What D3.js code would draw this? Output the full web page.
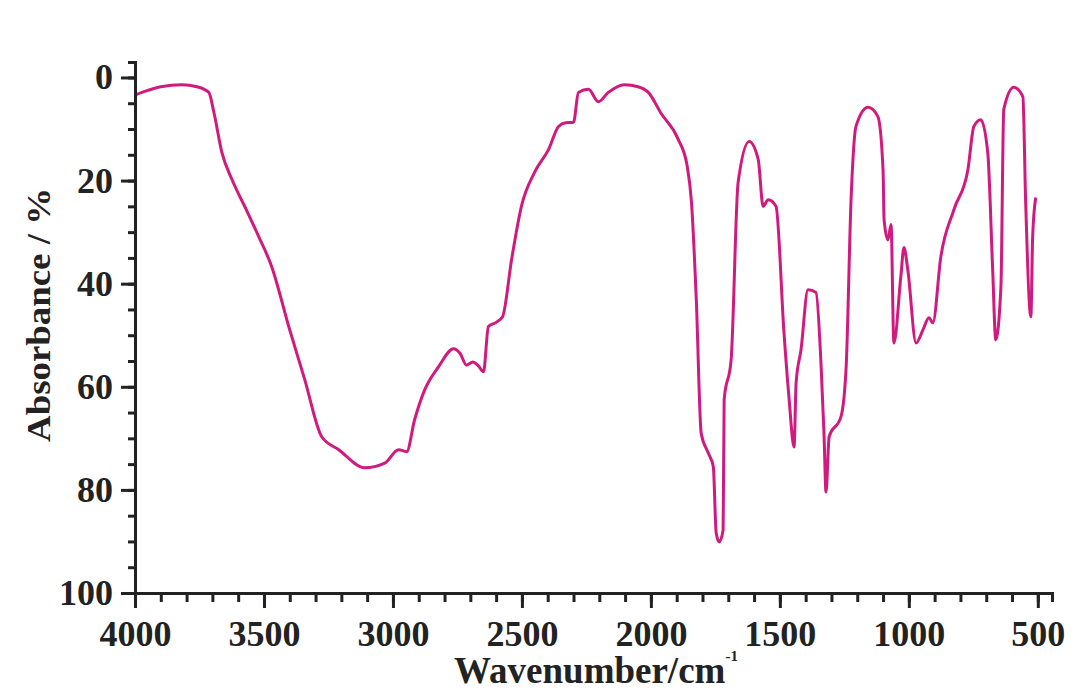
<!DOCTYPE html>
<html>
<head>
<meta charset="utf-8">
<script src="https://cdn.jsdelivr.net/npm/d3@7"></script>
<style>
  html, body { margin: 0; padding: 0; background: #fff; }
  svg { display: block; }
  text { font-family: "Liberation Serif", "Times New Roman", serif; font-weight: bold; fill: #222; }
</style>
</head>
<body>
<div class="js-chart"></div>
<script>
(function() {
  'use strict';

  /* ------------------------------------------------------------ *\
      Data
  \* ------------------------------------------------------------ */

  var wavenumbers = [
    4000, 3950, 3900, 3818, 3760, 3714, 3694, 3663, 3624, 3570,
    3520, 3470, 3404, 3342, 3276, 3210, 3110, 3032, 2978, 2947,
    2916, 2877, 2823, 2765, 2740, 2715, 2690, 2668, 2649, 2630,
    2600, 2575, 2540, 2502, 2451, 2397, 2358, 2330, 2300, 2281,
    2242, 2204, 2165, 2103, 2050, 2010, 1960, 1894, 1860, 1843,
    1824, 1805, 1778, 1758, 1747, 1735, 1720, 1716, 1689, 1662,
    1619, 1584, 1565, 1545, 1515, 1484, 1464, 1445, 1437, 1418,
    1391, 1360, 1340, 1329, 1321, 1309, 1263, 1243, 1224, 1205,
    1158, 1120, 1100, 1096, 1081, 1069, 1058, 1031, 1019, 1004,
    972, 945, 922, 907, 876, 825, 771, 748, 721, 694,
    675, 663, 643, 632, 593, 558, 547, 527, 520, 508
  ];

  var absorbance = [
    3.4, 2.5, 1.8, 1.4, 1.8, 2.9, 6.8, 14.6, 19.8, 25.5,
    30.9, 36.7, 48.3, 58.6, 69.7, 72.2, 75.7, 74.8, 72.2, 72.6,
    66.4, 60.6, 56.1, 52.6, 53.5, 55.8, 55.2, 56.0, 57.1, 48.3,
    47.5, 46.4, 35.3, 25.0, 18.4, 14.0, 9.5, 8.8, 8.7, 2.9,
    2.3, 4.7, 2.9, 1.4, 1.8, 2.9, 7.0, 12.0, 17.0, 24.0,
    43.1, 69.0, 72.8, 75.5, 88.3, 90.1, 87.8, 62.5, 54.8, 20.4,
    12.4, 15.9, 25.0, 23.7, 25.0, 49.5, 62.5, 71.7, 59.2, 52.8,
    41.2, 41.7, 56.1, 69.0, 80.4, 69.7, 65.8, 56.1, 23.7, 9.5,
    5.8, 7.6, 17.9, 27.6, 31.5, 28.5, 51.5, 38.6, 33.0, 37.3,
    51.5, 48.9, 46.6, 47.6, 34.8, 25.6, 17.9, 9.5, 8.2, 14.6,
    37.3, 50.9, 40.6, 6.2, 1.9, 3.7, 24.3, 46.4, 30.9, 23.3
  ];

  var xTickValues = [4000, 3500, 3000, 2500, 2000, 1500, 1000, 500];
  var yTickValues = [0, 20, 40, 60, 80, 100];

  /* ------------------------------------------------------------ *\
      Layout
  \* ------------------------------------------------------------ */

  var width = 1075;
  var height = 693;
  var axisLeft = 135;
  var axisRight = 1052;
  var axisTop = 62;
  var axisBottom = 593;
  var lineColour = '#d01a7d';
  var axisColour = '#222';

  var x = d3.scaleLinear().domain([4000, 445]).range([axisLeft, axisRight]);
  var y = d3.scaleLinear().domain([-3, 100]).range([axisTop, axisBottom]);

  var svg = d3.select('.js-chart')
    .append('svg')
    .attr('width', width)
    .attr('height', height);

  /* ------------------------------------------------------------ *\
      The spectrum
  \* ------------------------------------------------------------ */

  var points = wavenumbers.map(function(w, i) {
    return { w: w, a: absorbance[i] };
  });

  var line = d3.line()
    .x(function(d) { return x(d.w); })
    .y(function(d) { return y(d.a); })
    .curve(d3.curveMonotoneX);

  svg.append('path')
    .datum(points)
    .attr('d', line)
    .attr('fill', 'none')
    .attr('stroke', lineColour)
    .attr('stroke-width', 3)
    .attr('stroke-linejoin', 'round');

  /* ------------------------------------------------------------ *\
      Axes (minor ticks first, then major with labels)
  \* ------------------------------------------------------------ */

  var xMinor = d3.range(4000, 499, -100);
  var yMinor = d3.range(0, 101, 5);
  var plain = d3.format('d');

  var xMinorAxis = svg.append('g')
    .attr('transform', 'translate(0,' + axisBottom + ')')
    .call(d3.axisBottom(x).tickValues(xMinor).tickSize(9).tickFormat(''));

  var xAxis = svg.append('g')
    .attr('transform', 'translate(0,' + axisBottom + ')')
    .call(d3.axisBottom(x).tickValues(xTickValues).tickFormat(plain)
      .tickSize(15).tickPadding(12).tickSizeOuter(0));

  var yMinorAxis = svg.append('g')
    .attr('transform', 'translate(' + axisLeft + ',0)')
    .call(d3.axisLeft(y).tickValues(yMinor).tickSize(7).tickFormat(''));

  var yAxis = svg.append('g')
    .attr('transform', 'translate(' + axisLeft + ',0)')
    .call(d3.axisLeft(y).tickValues(yTickValues).tickFormat(plain)
      .tickSize(14).tickPadding(8).tickSizeOuter(0));

  [xMinorAxis, xAxis, yMinorAxis, yAxis].forEach(function(g) {
    g.select('.domain').attr('stroke', axisColour).attr('stroke-width', 3);
    g.selectAll('.tick line').attr('stroke', axisColour).attr('stroke-width', 3);
  });

  [xAxis, yAxis].forEach(function(g) {
    g.selectAll('.tick text')
      .style('font-family', '"Liberation Serif", serif')
      .style('font-weight', 'bold')
      .style('font-size', '36px')
      .attr('fill', axisColour);
  });

  /* ------------------------------------------------------------ *\
      Axis titles
  \* ------------------------------------------------------------ */

  var xTitle = svg.append('text')
    .attr('x', 596)
    .attr('y', 683)
    .attr('text-anchor', 'middle')
    .style('font-size', '37px');

  xTitle.append('tspan').text('Wavenumber/cm');
  xTitle.append('tspan')
    .attr('dy', -22)
    .style('font-size', '15px')
    .text('-1');

  svg.append('text')
    .attr('transform', 'translate(50,315) rotate(-90)')
    .attr('text-anchor', 'middle')
    .attr('textLength', 254)
    .attr('lengthAdjust', 'spacingAndGlyphs')
    .style('font-size', '34px')
    .text('Absorbance / %');
})();
</script>
</body>
</html>
